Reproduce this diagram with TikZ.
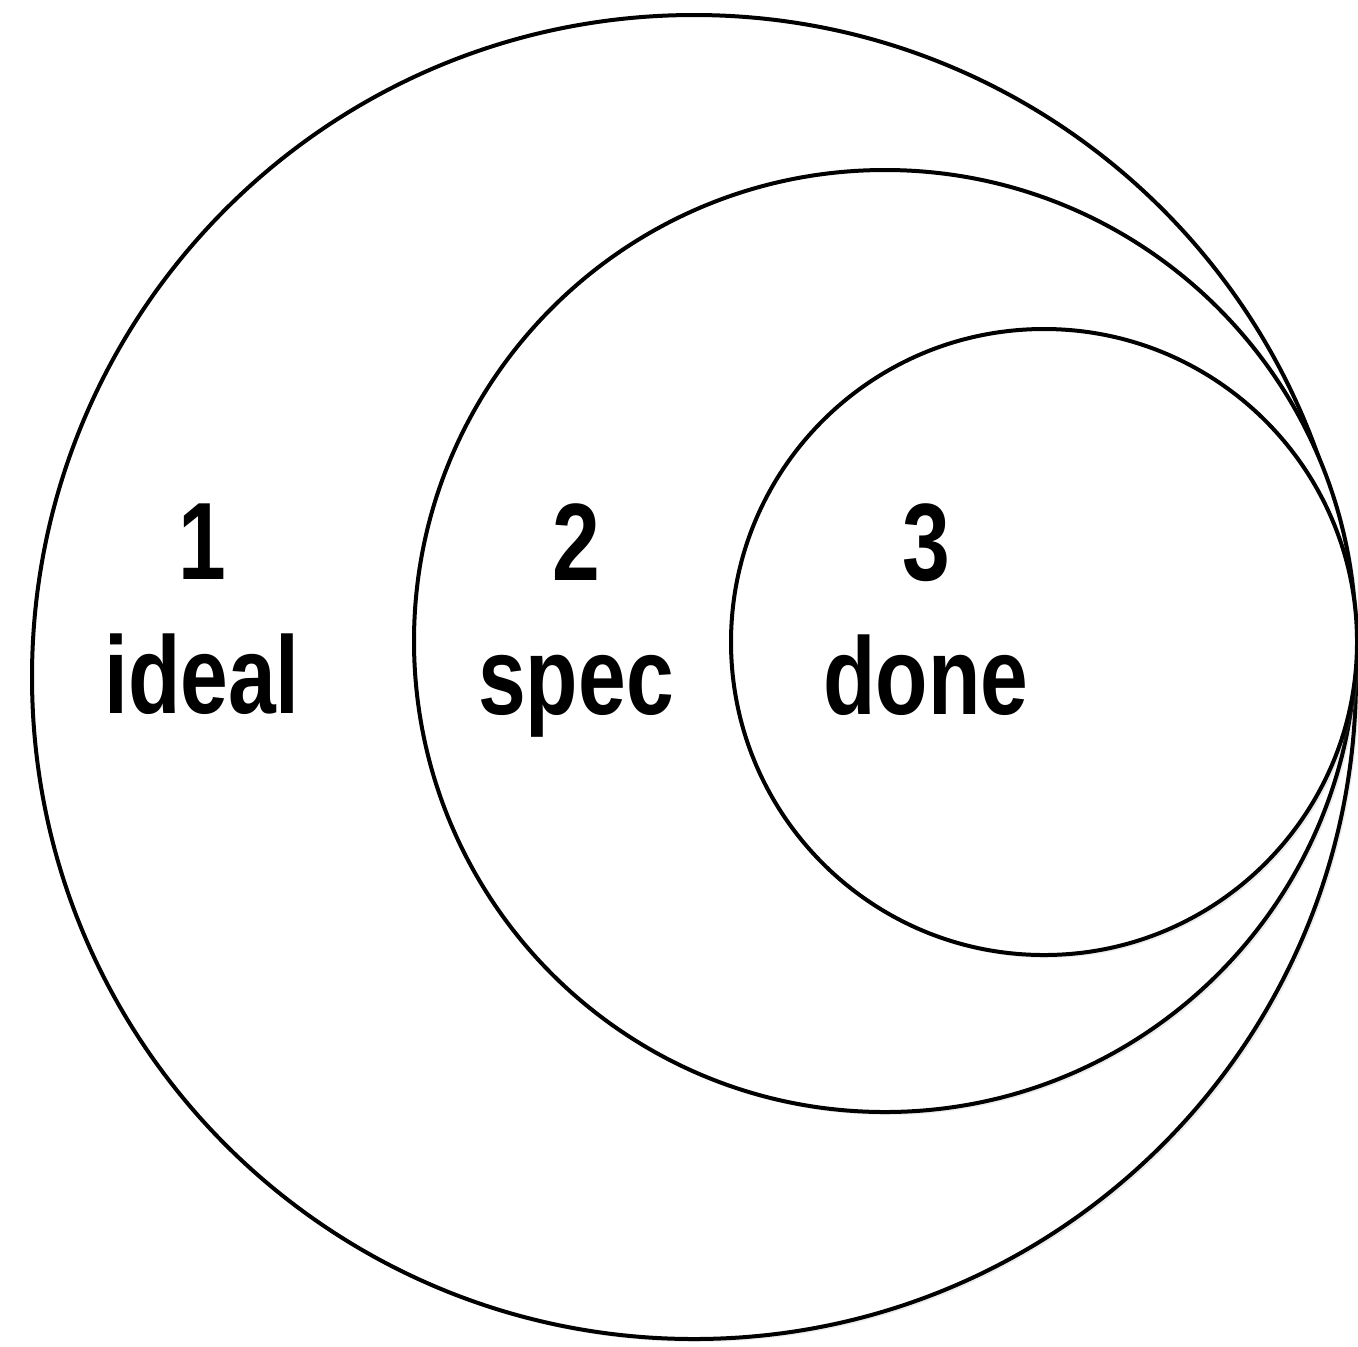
\documentclass[tikz,border=0pt]{standalone}
\usepackage{fontspec}
\setmainfont{Liberation Sans}[FakeStretch=0.78]
\usetikzlibrary{shadows}

\tikzset{
  ring/.style={circle,draw=black,line width=2pt,fill=white,inner sep=0pt,
    drop shadow={opacity=0.15,shadow xshift=1.5pt,shadow yshift=-1.5pt}},
  tag/.style={align=center,anchor=north,inner sep=0pt,
    font=\fontsize{55}{67}\selectfont\bfseries}
}

\begin{document}
\begin{tikzpicture}[x=0.5pt,y=-0.5pt]
\useasboundingbox (0,0) rectangle (1358,1346);
% nested circles, all touching on the right
\node[ring,minimum size=662pt] (ideal) at (694,677) {};
\node[ring,minimum size=471pt] (spec) at (885,641) {};
\node[ring,minimum size=313pt] (done) at (1044,642) {};
% labels
\node[tag] (idealtag) at (202,503) {1\\ideal};
\node[tag] (spectag) at (576,503) {2\\spec};
\node[tag] (donetag) at (926,503) {3\\done};
\end{tikzpicture}
\end{document}
